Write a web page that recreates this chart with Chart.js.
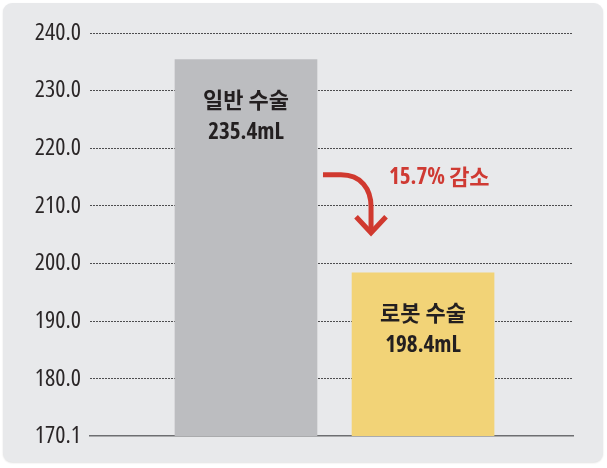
<!DOCTYPE html>
<html>
<head>
<meta charset="utf-8">
<script src="https://cdn.jsdelivr.net/npm/chart.js@4"></script>
<style>
  html, body { margin: 0; padding: 0; background: #ffffff; }
  #wrap { position: relative; width: 607px; height: 468px; }
  #panel {
    position: absolute; left: 3px; top: 3px; right: 4px; bottom: 6px;
    background: #e8e9eb; border-radius: 9px;
    box-shadow: 0 1px 2px rgba(0,0,0,0.12);
  }
  #c { position: absolute; left: 0; top: 0; }
</style>
</head>
<body>
<div id="wrap">
  <div id="panel"></div>
  <canvas id="c" width="607" height="468"></canvas>
</div>
<script>
// chart data
const categories = ['일반 수술', '로봇 수술'];
const volumes = [235.4, 198.4];
const yTicks = [170.1, 180, 190, 200, 210, 220, 230, 240];
const unit = 'mL';

// find a narrow face for the numbers (the original uses a condensed font)
function pickNarrow() {
    const ctx = document.createElement('canvas').getContext('2d');
    ctx.font = '22px Roboto';
    const base = ctx.measureText('240.0 235.4').width;
    const tries = [
        { stretch: 'condensed', family: '"Open Sans"' },
        { stretch: 'condensed', family: '"Noto Sans"' },
        { stretch: '', family: '"Liberation Sans Narrow"' },
        { stretch: '', family: '"DejaVu Sans Condensed"' }
    ];
    for (const t of tries) {
        ctx.font = (t.stretch ? t.stretch + ' ' : '') + '22px ' + t.family;
        if (ctx.measureText('240.0 235.4').width < base * 0.9) return t;
    }
    return { stretch: '', family: 'Roboto' };
}
const narrow = pickNarrow();
const numFamily = narrow.family + ', "Noto Sans CJK KR", sans-serif';
const numFont = (w, s) => [narrow.stretch, w, s + 'px', numFamily].filter(Boolean).join(' ');
const krFont = '"Noto Sans CJK KR", sans-serif';

// text inside each bar
const barText = {
    id: 'barText',
    afterDatasetsDraw(chart) {
        const ctx = chart.ctx;
        chart.getDatasetMeta(0).data.forEach((bar, i) => {
            ctx.save();
            ctx.fillStyle = '#231f20';
            ctx.textAlign = 'center';
            ctx.textBaseline = 'middle';
            ctx.font = 'bold 22px ' + krFont;
            ctx.fillText(categories[i], bar.x, bar.y + 40);
            ctx.font = numFont('bold', 23);
            ctx.fillText(volumes[i].toFixed(1) + unit, bar.x, bar.y + 73);
            ctx.restore();
        });
    }
};

// red curved arrow + decrease label
const dropArrow = {
    id: 'dropArrow',
    afterDatasetsDraw(chart) {
        const ctx = chart.ctx;
        const y = chart.scales.y;
        const bars = chart.getDatasetMeta(0).data;
        const x0 = bars[0].x + bars[0].width / 2 + 6;
        const x1 = bars[1].x - bars[1].width / 2 + 19;
        const yTop = y.getPixelForValue(215.4);
        const yTip = y.getPixelForValue(205.0);
        ctx.save();
        ctx.strokeStyle = '#d0392f';
        ctx.lineWidth = 5;
        ctx.lineCap = 'butt';
        ctx.lineJoin = 'miter';
        ctx.beginPath();
        ctx.moveTo(x0, yTop);
        ctx.lineTo(x0 + 18, yTop);
        ctx.bezierCurveTo(x1 - 10, yTop, x1, yTop + 14, x1, yTop + 32);
        ctx.lineTo(x1, yTip - 2);
        ctx.stroke();
        ctx.beginPath();
        ctx.moveTo(x1 - 15, yTip - 18);
        ctx.lineTo(x1, yTip - 2);
        ctx.lineTo(x1 + 15, yTip - 18);
        ctx.stroke();

        const pct = ((volumes[0] - volumes[1]) / volumes[0] * 100).toFixed(1);
        ctx.fillStyle = '#cf3a33';
        ctx.textBaseline = 'middle';
        ctx.textAlign = 'left';
        ctx.font = numFont('bold', 23);
        const t1 = pct + '% ';
        ctx.fillText(t1, x1 + 18, yTop + 3);
        const w = ctx.measureText(t1).width;
        ctx.font = 'bold 22px ' + krFont;
        ctx.fillText('감소', x1 + 18 + w, yTop + 2);
        ctx.restore();
    }
};

new Chart(document.getElementById('c'), {
    type: 'bar',
    data: {
        labels: categories,
        datasets: [
            {
                data: volumes.map((v, i) => ({ x: i + 1, y: v })),
                backgroundColor: ['#bcbdc0', '#f2d377'],
                borderWidth: 0,
                barThickness: 142
            }
        ]
    },
    options: {
        responsive: false,
        animation: false,
        layout: {
            padding: { left: 0, right: 34, top: 33, bottom: 32 }
        },
        plugins: {
            legend: { display: false },
            tooltip: { enabled: false }
        },
        scales: {
            x: {
                type: 'linear',
                offset: false,
                min: 0.119,
                max: 2.847,
                ticks: { display: false },
                grid: { display: false, drawTicks: false },
                border: { display: true, color: '#6d6e71', width: 1.5 },
                afterFit: (scale) => { scale.height = 0; }
            },
            y: {
                min: 170.1,
                max: 240,
                afterBuildTicks: (scale) => {
                    scale.ticks = yTicks.map(v => ({ value: v }));
                },
                afterFit: (scale) => { scale.width = 90; },
                ticks: {
                    padding: 9,
                    color: '#2a2627',
                    font: { family: numFamily, size: 24, weight: narrow.stretch || 'normal' },
                    callback: (v) => Number(v).toFixed(1)
                },
                grid: {
                    drawTicks: false,
                    color: (c) => c.tick && c.tick.value === 170.1 ? 'rgba(0,0,0,0)' : '#4d4d4f',
                    lineWidth: 1
                },
                border: { display: false, dash: [2, 1] }
            }
        }
    },
    plugins: [barText, dropArrow]
});
</script>
</body>
</html>
